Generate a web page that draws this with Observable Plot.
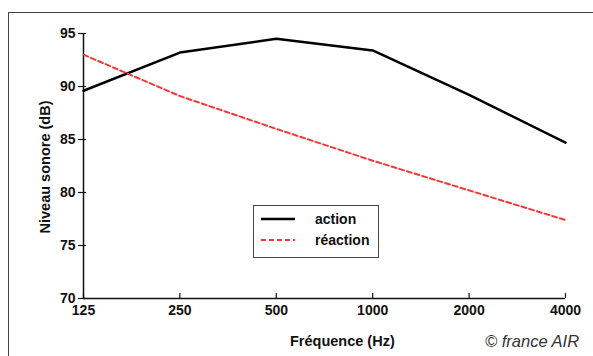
<!DOCTYPE html>
<html><head><meta charset="utf-8">
<script src="https://cdn.jsdelivr.net/npm/d3@7"></script>
<script src="https://cdn.jsdelivr.net/npm/@observablehq/plot@0.6"></script>
<style>
body{margin:0;background:#fff;}
#wrap{position:relative;width:593px;height:356px;overflow:hidden;font-family:"Liberation Sans",Arial,sans-serif;}
#border{position:absolute;left:8px;top:12px;width:700px;height:500px;border:1.5px solid #444;box-sizing:border-box;}
#chart{position:absolute;left:0;top:0;}
.lbl{position:absolute;font-weight:bold;color:#111;}
#legend{position:absolute;left:253px;top:205px;width:126px;height:53px;border:1.5px solid #444;box-sizing:border-box;background:#fff;font-size:14px;font-weight:bold;color:#111;}
.row{position:absolute;left:7px;display:flex;align-items:center;}
.row span{margin-left:20px;}
#caption{position:absolute;left:485px;top:332px;font-style:italic;font-size:16.5px;color:#333;}
</style></head>
<body><div id="wrap"><div id="border"></div><div id="chart"></div>
<div class="lbl" style="left:290px;top:333px;font-size:14.5px;">Fréquence (Hz)</div>
<div class="lbl" style="left:45px;top:167px;font-size:14.5px;transform:translate(-50%,-50%) rotate(-90deg);white-space:nowrap;">Niveau sonore (dB)</div>
<div id="legend"></div>
<div id="caption">© france AIR</div>
</div>
<script>
const freqs = [125, 250, 500, 1000, 2000, 4000];
const action = [89.6, 93.2, 94.5, 93.4, 89.2, 84.7];
const reaction = [93.0, 89.1, 86.0, 83.0, 80.2, 77.4];
const yTicks = [70, 75, 80, 85, 90, 95];
const seriesNames = ["action", "réaction"];
const colors = ["#000000", "#f03a3a"];

const dA = freqs.map((f,i)=>({f, v: action[i]}));
const dR = freqs.map((f,i)=>({f, v: reaction[i]}));

const plot = Plot.plot({
  width: 593, height: 356,
  marginLeft: 83, marginRight: 28, marginTop: 33, marginBottom: 58,
  style: {fontFamily: '"Liberation Sans", Arial, sans-serif', fontSize: "14px", fontWeight: "bold", color: "#111", background: "transparent"},
  x: {type: "log", base: 2, domain: [125, 4000]},
  y: {domain: [70, 95]},
  marks: [
    Plot.axisX({ticks: freqs, tickSize: 0, tickPadding: 7, tickFormat: d => String(d), label: null, fontSize: 14}),
    Plot.axisX({ticks: freqs, tickSize: -5, tickFormat: () => "", label: null, stroke: "#111", strokeWidth: 1.2}),
    Plot.axisY({ticks: yTicks, tickSize: 5, tickPadding: 3, label: null, fontSize: 14, stroke: "#111", strokeWidth: 1.2}),
    Plot.axisY({ticks: yTicks, tickSize: -3, tickFormat: () => "", label: null, stroke: "#111", strokeWidth: 1.2}),
    Plot.ruleX([125], {stroke: "#111", strokeWidth: 1.5}),
    Plot.ruleY([70], {stroke: "#111", strokeWidth: 1.5}),
    Plot.line(dA, {x: "f", y: "v", stroke: colors[0], strokeWidth: 2.5}),
    Plot.line(dR, {x: "f", y: "v", stroke: colors[1], strokeWidth: 2, strokeDasharray: "5,3"})
  ]
});
document.getElementById("chart").appendChild(plot);

const leg = document.getElementById("legend");
seriesNames.forEach((n,i)=>{
  const row = document.createElement("div");
  row.className = "row";
  row.style.top = (i===0 ? 4 : 25) + "px";
  row.innerHTML = `<svg width="34" height="18"><line x1="0" x2="34" y1="9" y2="9" stroke="${colors[i]}" stroke-width="${i===0?2.5:2}" ${i===1?'stroke-dasharray="5,3"':''}/></svg><span>${n}</span>`;
  leg.appendChild(row);
});
</script>
</body></html>
